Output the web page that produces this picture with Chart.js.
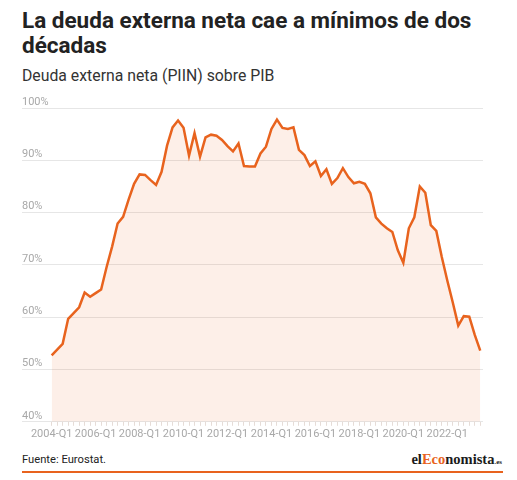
<!DOCTYPE html>
<html>
<head>
<meta charset="utf-8">
<script src="https://cdn.jsdelivr.net/npm/chart.js@4"></script>
<style>
  body { margin: 0; background: #fff; font-family: Roboto, sans-serif; }
  #wrap { position: relative; width: 517px; height: 480px; overflow: hidden; }
  #title { position: absolute; left: 22px; top: 8px; width: 480px; font-size: 22.5px; font-weight: 700; line-height: 25px; color: #222; }
  #sub { position: absolute; left: 22px; top: 66px; font-size: 15.8px; color: #333; }
  #box { position: absolute; left: 0; top: 88px; width: 517px; height: 362px; }
  #source { position: absolute; left: 22px; top: 453px; font-size: 11.2px; color: #222; }
  #logo { position: absolute; right: 15px; top: 451px; font-family: "Liberation Serif", serif; font-weight: 700; font-size: 14.5px; color: #1a1a1a; }
  #logo .eco { color: #e8631e; }
  #logo .es { font-size: 7px; }
  #rule { position: absolute; left: 22px; top: 471px; width: 481px; height: 2px; background: #e8631e; }
</style>
</head>
<body>
<div id="wrap">
  <div id="title">La deuda externa neta cae a mínimos de dos décadas</div>
  <div id="sub">Deuda externa neta (PIIN) sobre PIB</div>
  <div id="box"><canvas id="deuda"></canvas></div>
  <div id="source">Fuente: Eurostat.</div>
  <div id="logo">el<span class="eco">Eco</span>nomista<span class="es">.es</span></div>
  <div id="rule"></div>
</div>
<script>
var years = [2004, 2005, 2006, 2007, 2008, 2009, 2010, 2011, 2012, 2013, 2014, 2015, 2016, 2017, 2018, 2019, 2020, 2021, 2022, 2023];
var quarters = ["Q1", "Q2", "Q3", "Q4"];
var labels = [];
for (var a = 0; a < years.length; a++) {
  for (var q = 0; q < quarters.length; q++) {
    labels.push(years[a] + "-" + quarters[q]);
  }
}
labels = labels.slice(0, 79); // hasta 2023-Q3

var piin = [52.7, 53.8, 54.9, 59.7, 60.8, 61.9, 64.7, 63.9, 64.6, 65.3,
  69.6, 73.5, 77.9, 79.2, 82.5, 85.5, 87.3, 87.2, 86.2, 85.3,
  87.8, 92.8, 96.3, 97.6, 96.2, 90.9, 95.2, 90.7, 94.4, 94.9,
  94.7, 93.9, 92.7, 91.7, 93.2, 88.9, 88.8, 88.8, 91.3, 92.6,
  96.0, 97.8, 96.2, 96.0, 96.3, 92.0, 91.0, 88.9, 89.8, 87.0,
  88.3, 85.5, 86.6, 88.5, 86.8, 85.6, 85.9, 85.5, 83.7, 79.1,
  77.9, 77.0, 76.3, 72.8, 70.4, 77.0, 79.1, 85.0, 83.8, 77.6,
  76.5, 71.5, 67.0, 62.8, 58.4, 60.2, 60.1, 56.6, 53.6];

var yTicks = [40, 50, 60, 70, 80, 90, 100];

var points = piin.map(function(v, i) { return {x: i, y: v}; });

var chart = new Chart(document.getElementById("deuda"), {
  type: "line",
  data: {
    datasets: [{
      data: points,
      borderColor: "#e8631e",
      borderWidth: 2.5,
      backgroundColor: "rgba(232,99,30,0.1)",
      fill: "start",
      pointRadius: 0,
      tension: 0
    }]
  },
  options: {
    responsive: true,
    maintainAspectRatio: false,
    animation: false,
    layout: {padding: {left: 22, right: 34, top: 20, bottom: 7}},
    plugins: {legend: {display: false}, tooltip: {enabled: false}},
    scales: {
      x: {
        type: "linear",
        min: -5.4,
        max: 78.5,
        afterBuildTicks: function(scale) {
          scale.ticks = labels.map(function(l, i) { return {value: i}; });
        },
        grid: {drawOnChartArea: false, drawTicks: true, tickLength: 4, color: "#e6dcd7"},
        border: {display: false},
        ticks: {
          autoSkip: false,
          maxRotation: 0,
          padding: 2,
          color: "#a8a8a8",
          font: {family: "Roboto", size: 11},
          callback: function(v) { return (v % 8 === 0) ? labels[v] : ""; }
        }
      },
      y: {
        min: 40,
        max: 100,
        afterBuildTicks: function(scale) {
          scale.ticks = yTicks.map(function(v) { return {value: v}; });
        },
        grid: {drawTicks: false, color: "#e6e6e6"},
        border: {display: false},
        ticks: {
          mirror: true,
          padding: 0,
          labelOffset: -6,
          color: "#a8a8a8",
          font: {family: "Roboto", size: 11},
          callback: function(v) { return v + "%"; }
        }
      }
    }
  }
});
</script>
</body>
</html>
